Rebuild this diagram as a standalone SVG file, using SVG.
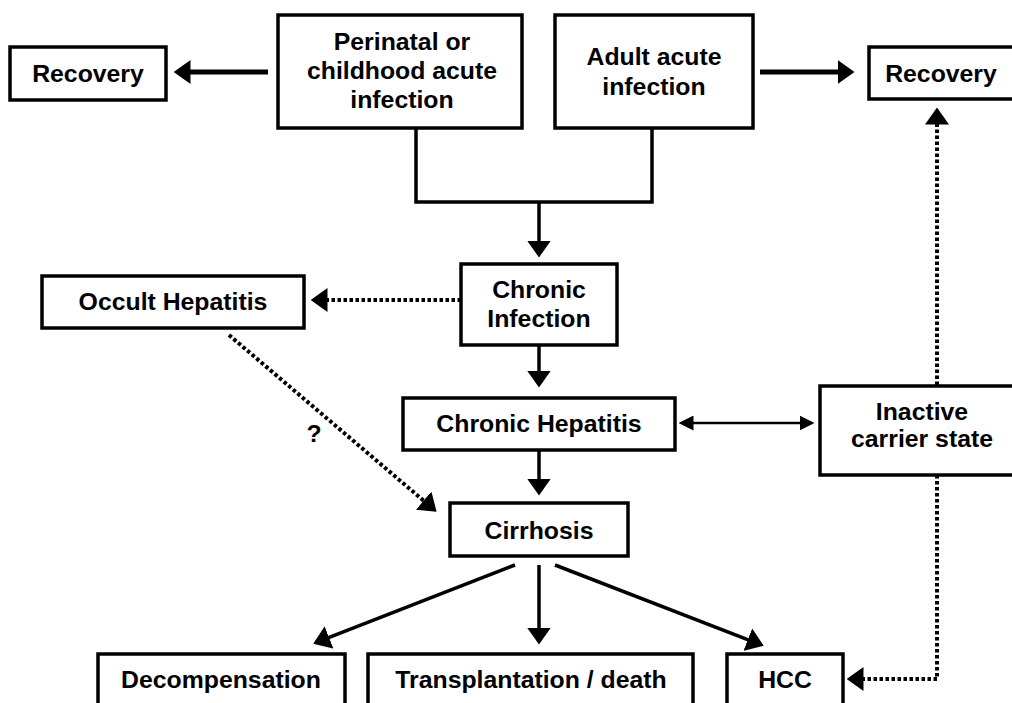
<svg xmlns="http://www.w3.org/2000/svg" width="1012" height="703" viewBox="0 0 1012 703">
<style>
.box{fill:#fff;stroke:#000;stroke-width:3.5}
.t{font-family:"Liberation Sans",Arial,sans-serif;font-weight:bold;font-size:24.8px;fill:#000;text-anchor:middle}
.ln{fill:none;stroke:#000;stroke-width:3.5}
.thick{fill:none;stroke:#000;stroke-width:5}
.thin{fill:none;stroke:#000;stroke-width:2.5}
.dot{fill:none;stroke:#000;stroke-width:4;stroke-dasharray:3.5 2.5}
</style>
<defs>
<marker id="ah" viewBox="0 0 17 24" refX="0.5" refY="12" markerWidth="17" markerHeight="24" markerUnits="userSpaceOnUse" orient="auto"><path d="M0,0 L17,12 L0,24 Z" fill="#000"/></marker>
<marker id="as" viewBox="0 0 15 15" refX="0.5" refY="7.5" markerWidth="15" markerHeight="15" markerUnits="userSpaceOnUse" orient="auto-start-reverse"><path d="M0,0 L15,7.5 L0,15 Z" fill="#000"/></marker>
</defs>
<rect width="1012" height="703" fill="#fff"/>
<g id="connectors">
<line class="thick" x1="268" y1="72" x2="190" y2="72" marker-end="url(#ah)"/>
<line class="thick" x1="760" y1="72" x2="838" y2="72" marker-end="url(#ah)"/>
<polyline class="ln" points="416,128 416,202 652,202 652,128"/>
<line class="ln" x1="539" y1="202" x2="539" y2="241" marker-end="url(#ah)"/>
<line class="ln" x1="539" y1="345" x2="539" y2="371" marker-end="url(#ah)"/>
<line class="thin" x1="693" y1="423" x2="800" y2="423" marker-start="url(#as)" marker-end="url(#as)"/>
<line class="ln" x1="539" y1="450" x2="539" y2="479" marker-end="url(#ah)"/>
<line class="dot" x1="461" y1="300" x2="327" y2="300" marker-end="url(#ah)"/>
<line class="dot" x1="229" y1="335" x2="424" y2="501" marker-end="url(#ah)"/>
<line class="dot" x1="937" y1="385" x2="937" y2="124" marker-end="url(#ah)"/>
<polyline class="dot" points="937,475 937,679 863,679" marker-end="url(#ah)"/>
<line class="ln" x1="515" y1="565" x2="328.6" y2="637.7" marker-end="url(#ah)"/>
<line class="ln" x1="539" y1="565" x2="539" y2="628" marker-end="url(#ah)"/>
<line class="ln" x1="555" y1="565" x2="748.3" y2="639.8" marker-end="url(#ah)"/>
<text class="t" x="314" y="442">?</text>
</g>
<g id="recovery-left"><rect class="box" x="10" y="47" width="156" height="53"/><text class="t" x="88" y="82">Recovery</text></g>
<g id="perinatal"><rect class="box" x="278" y="15" width="244" height="113"/><text class="t" x="402" y="50">Perinatal or</text><text class="t" x="402" y="79">childhood acute</text><text class="t" x="402" y="108">infection</text></g>
<g id="adult"><rect class="box" x="555" y="15" width="198" height="113"/><text class="t" x="654" y="65">Adult acute</text><text class="t" x="654" y="95">infection</text></g>
<g id="recovery-right"><rect class="box" x="869" y="47" width="160" height="52"/><text class="t" x="941" y="82">Recovery</text></g>
<g id="chronic-infection"><rect class="box" x="461" y="264" width="156" height="81"/><text class="t" x="539" y="298">Chronic</text><text class="t" x="539" y="327">Infection</text></g>
<g id="occult"><rect class="box" x="42" y="276" width="262" height="52"/><text class="t" x="173" y="310">Occult Hepatitis</text></g>
<g id="chronic-hepatitis"><rect class="box" x="403" y="398" width="272" height="52"/><text class="t" x="539" y="432">Chronic Hepatitis</text></g>
<g id="inactive"><rect class="box" x="820" y="386" width="204" height="89"/><text class="t" x="922" y="420">Inactive</text><text class="t" x="922" y="447">carrier state</text></g>
<g id="cirrhosis"><rect class="box" x="450" y="503" width="178" height="53"/><text class="t" x="539" y="539">Cirrhosis</text></g>
<g id="decompensation"><rect class="box" x="98" y="654" width="247" height="60"/><text class="t" x="221" y="688">Decompensation</text></g>
<g id="transplantation"><rect class="box" x="368" y="654" width="325" height="60"/><text class="t" x="531" y="688">Transplantation / death</text></g>
<g id="hcc"><rect class="box" x="727" y="654" width="116" height="60"/><text class="t" x="785" y="688">HCC</text></g>
</svg>
